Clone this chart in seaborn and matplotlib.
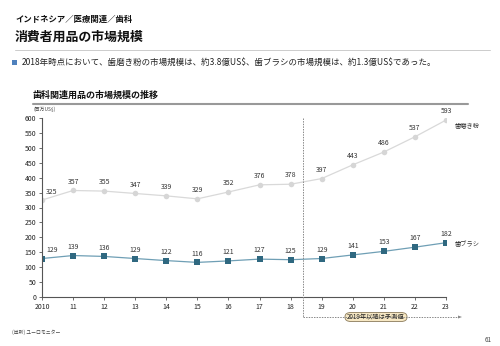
import matplotlib
matplotlib.use("Agg")
import matplotlib.pyplot as plt
import seaborn as sns
import pandas as pd
from matplotlib.patches import FancyBboxPatch

sns.set_theme(style="white")
plt.rcParams['font.family'] = ['Noto Sans CJK JP', 'DejaVu Sans']
plt.rcParams['text.parse_math'] = False

years = list(range(2010, 2024))
year_labels = ["2010", "11", "12", "13", "14", "15", "16", "17", "18", "19", "20", "21", "22", "23"]
toothpaste = [325, 357, 355, 347, 339, 329, 352, 376, 378, 397, 443, 486, 537, 593]
toothbrush = [129, 139, 136, 129, 122, 116, 121, 127, 125, 129, 141, 153, 167, 182]
series_names = ["歯磨き粉", "歯ブラシ"]
y_ticks = list(range(0, 601, 50))

df = pd.DataFrame({
    "year": years * 2,
    "value": toothpaste + toothbrush,
    "series": [series_names[0]] * len(years) + [series_names[1]] * len(years),
})

fig = plt.figure(figsize=(5, 3.46), dpi=100)
W, H = 500, 346
ax = fig.add_axes([42 / W, 1 - 297 / H, (446 - 42) / W, (297 - 118) / H])

paste_df = df[df.series == series_names[0]]
brush_df = df[df.series == series_names[1]]
sns.lineplot(data=paste_df, x="year", y="value", ax=ax, color="#d9d9d9", lw=0.9,
             marker="o", markersize=4, markeredgewidth=0, markerfacecolor="#d6d6d6")
sns.lineplot(data=brush_df, x="year", y="value", ax=ax, color="#6f9fb5", lw=0.9,
             marker="s", markersize=4, markeredgewidth=0, markerfacecolor="#2f6880")

ax.set_xlim(2010, 2023)
ax.set_ylim(0, 600)
ax.set_xticks(years)
ax.set_xticklabels(year_labels, fontsize=5)
ax.set_yticks(y_ticks)
ax.set_yticklabels([str(v) for v in y_ticks], fontsize=5)
ax.set_xlabel("")
ax.set_ylabel("")
for s in ["top", "right"]:
    ax.spines[s].set_visible(False)
for s in ["left", "bottom"]:
    ax.spines[s].set_color("#555555")
    ax.spines[s].set_linewidth(0.8)
ax.tick_params(axis="both", length=2, width=0.6, color="#555555", pad=2, labelcolor="#222222", direction="out")
ax.tick_params(axis="y", left=True)
ax.tick_params(axis="x", bottom=True, pad=2.5)

# data labels
for vals in (toothpaste, toothbrush):
    for i, (x, v) in enumerate(zip(years, vals)):
        if i == 0:
            ax.annotate(str(v), (x, v), xytext=(3, 3), textcoords="offset points", fontsize=5,
                        color="#333333", ha="left", va="bottom")
        else:
            ax.annotate(str(v), (x, v), xytext=(0, 3.5), textcoords="offset points", fontsize=5,
                        color="#333333", ha="center", va="bottom")

ax.annotate(series_names[0], (years[-1], toothpaste[-1]), xytext=(6, -4), textcoords="offset points",
            fontsize=4.5, color="#333333", ha="left", va="center")
ax.annotate(series_names[1], (years[-1], toothbrush[-1]), xytext=(6, -1), textcoords="offset points",
            fontsize=4.5, color="#333333", ha="left", va="center")

def fx(px):
    return px / W
def fy(py):
    return 1 - py / H

# forecast divider
fig.add_artist(plt.Line2D([fx(302.5), fx(302.5)], [fy(118), fy(317)], color="#888888", lw=0.7, ls=(0, (1.5, 1.2))))
fig.add_artist(plt.Line2D([fx(302.5), fx(459)], [fy(317), fy(317)], color="#888888", lw=0.7, ls=(0, (1.5, 1.2))))
fig.add_artist(plt.Polygon([[fx(458), fy(315.5)], [fx(462), fy(317)], [fx(458), fy(318.5)]], closed=True, color="#888888", lw=0))
box = FancyBboxPatch((fx(345), fy(321.5)), fx(62), fy(312.5) - fy(321.5),
                     boxstyle="round,pad=0,rounding_size=0.012", transform=fig.transFigure,
                     facecolor="#f7e8c4", edgecolor="#8a7a5a", lw=0.6)
fig.add_artist(box)
fig.text(fx(376), fy(317), "2019年以降は予測値", fontsize=4.5, ha="center", va="center", color="#222222")

# headers
fig.text(fx(15), fy(19), "インドネシア／医療関連／歯科", fontsize=6, fontweight="bold", ha="left", va="center", color="#111111")
fig.text(fx(15), fy(37), "消費者用品の市場規模", fontsize=9.3, fontweight="bold", ha="left", va="center", color="#111111")
fig.add_artist(plt.Line2D([fx(15), fx(490)], [fy(49.5), fy(49.5)], color="#cccccc", lw=0.7))
fig.add_artist(plt.Rectangle((fx(12), fy(65)), fx(5), fy(60) - fy(65), color="#4f81bd", lw=0))
fig.text(fx(22), fy(62.5), "2018年時点において、歯磨き粉の市場規模は、約3.8億US$、歯ブラシの市場規模は、約1.3億US$であった。",
         fontsize=6.1, ha="left", va="center", color="#222222")

fig.text(fx(33), fy(95), "歯科関連用品の市場規模の推移", fontsize=6.5, fontweight="bold", ha="left", va="center", color="#111111")
fig.add_artist(plt.Line2D([fx(33), fx(468)], [fy(104), fy(104)], color="#999999", lw=1.5))
fig.text(fx(33), fy(109.5), "(百万US$)", fontsize=3.5, ha="left", va="center", color="#444444")

fig.text(fx(12), fy(332), "(出所) ユーロモニター", fontsize=3.5, ha="left", va="center", color="#444444")
fig.text(fx(488), fy(340), "61", fontsize=4.5, ha="center", va="center", color="#444444")

fig.savefig("out.png", dpi=100)
